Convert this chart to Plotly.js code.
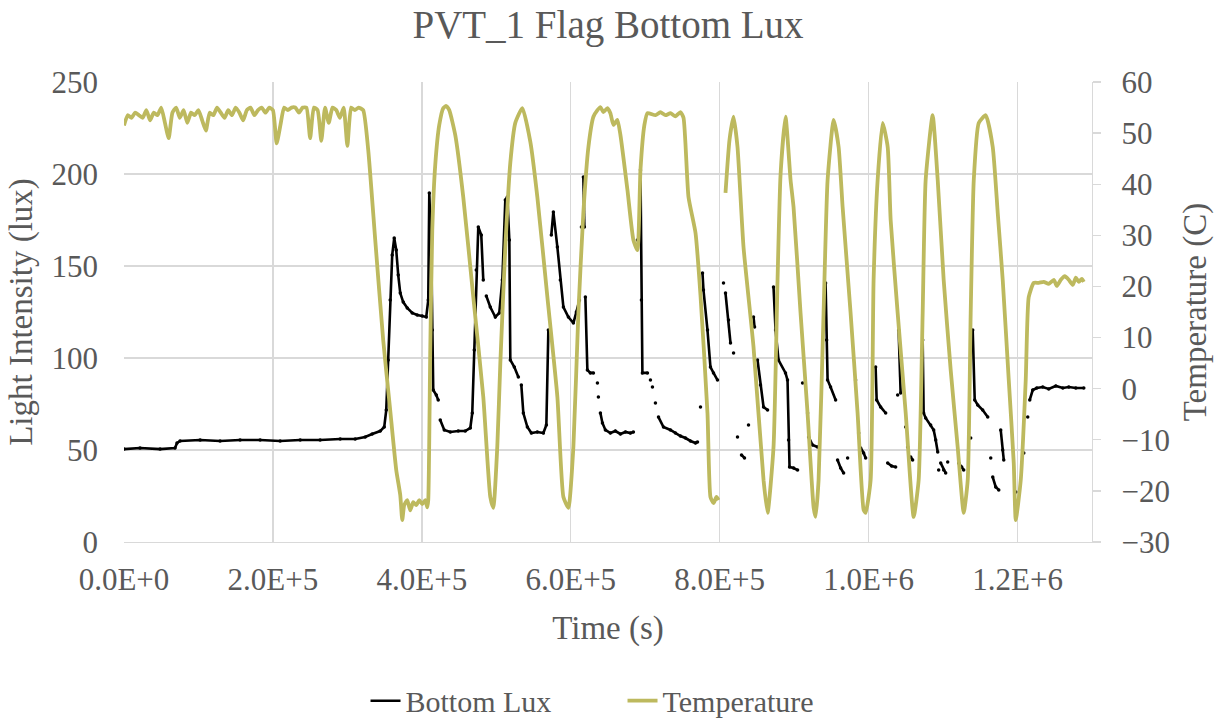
<!DOCTYPE html>
<html><head><meta charset="utf-8">
<script src="https://cdn.plot.ly/plotly-3.0.1.min.js"></script>
<style>html,body{margin:0;padding:0;background:#fff}#chart{width:1219px;height:723px}</style>
</head><body><div id="chart"></div>
<script>
// ---- tick labels ----
const xTickValues = [0, 200000, 400000, 600000, 800000, 1000000, 1200000];
const xTickLabels = ["0.0E+0", "2.0E+5", "4.0E+5", "6.0E+5", "8.0E+5", "1.0E+6", "1.2E+6"];
const luxTicks = [0, 50, 100, 150, 200, 250];
const tempTicks = [-30, -20, -10, 0, 10, 20, 30, 40, 50, 60];

// ---- Temperature (C) vs time (s) ----
const tempTime = [
  0,5000,10000,15000,20000,25000,30000,35000,40000,45000,
  50000,55000,60000,65000,70000,75000,80000,85000,90000,95000,
  100000,105000,110000,115000,120000,125000,130000,135000,140000,145000,
  150000,155000,160000,165000,170000,175000,180000,185000,190000,195000,
  200000,205000,210000,215000,220000,225000,230000,235000,240000,245000,
  250000,255000,260000,265000,270000,275000,280000,285000,290000,295000,
  300000,305000,310000,315000,321200,
  328000,337400,348100,357500,365600,371000,373700,376300,380400,384400,388400,392500,396500,400500,404600,407300,408600,
  411300,414000,418000,423400,428800,432800,436800,444900,455600,469100,482500,491900,496000,
  501300,505400,512100,518800,525500,535000,545700,555100,568600,582000,590100,596800,
  603500,610200,616900,623700,630400,635800,639800,643800,649200,653200,657300,662600,666700,676100,684100,689500,
  693600,698900,703000,713700,720400,727200,733900,740600,747300,751400,758100,767500,774200,783600,787600,791700,795700,798400,
  null,
  807800,813200,818600,823900,832000,845400,858900,864300,872300,877700,881700,888400,
  895200,899200,908600,918000,926100,928800,932800,939500,944900,953000,
  959700,965100,975800,985200,993300,996000,1002700,1006700,1012100,1018800,
  1025600,1029600,1039000,1049800,1060500,1067200,1072600,1076600,1086000,
  1092800,1100800,1110200,1119600,1127700,1133100,1137100,1141200,1147900,1157300,
  1166700,1173400,1180100,1188200,1194900,1197600,1204300,1211000,1215000,1221800,
  1228500,1235200,1241900,1248700,1252700,1258100,1263500,1268800,1274200,1278300,1282300,1286300,1289000
];
const tempValue = [
  51.5,53.5,53,54,53.5,53,54.5,52.5,54,53.5,
  55,52,49,54,55,53,54.5,52,54,53.5,
  54.5,52.5,50.5,54,53.5,55,54,53,54.5,53.5,
  55,54,52.5,54.5,55,53.5,54.5,55,54,55,
  54.5,48,51.5,55,54.5,55,55,54,55,55,
  49,55,54.5,48.5,55,52,55,54.5,53,55,
  47.5,55,54.5,55,54.5,
  46.7,29.1,9.5,-4.2,-15.9,-20.8,-25.7,-22.8,-21.8,-23.8,-22.2,-22.8,-21.8,-22.6,-21.8,-23.2,-21.8,
  7.6,31,43.8,51.6,54.9,55.3,54.5,49.6,37.5,17.9,-1.6,-21.2,-23.3,
  -11.4,5,27.7,44.2,52,54.9,48.3,37.5,17.9,-1.6,-21.2,-23.3,
  -11.4,14.8,34.4,47.3,53.2,54.5,55.1,54.1,54.9,53.9,51.6,52.6,49.6,38.9,29.1,27.1,
  42.8,51.6,53.9,53.5,54.1,53.5,53.9,53.3,54.1,53,37.5,30.5,18.3,-4.8,-21.2,-22.4,-21.2,-21.8,
  null,
  38.3,48.7,53.2,47.3,27.7,8.2,-17.9,-24.3,-11.4,21.3,41.8,53.2,
  40.8,35.5,14.8,-4.8,-23.2,-25.1,-17.9,14.8,40.8,52.6,
  47.3,35.5,14.8,-4.8,-23.7,-24.3,-17.9,21.3,40.8,52,
  47.3,33,14.8,-4.8,-25.1,-17.9,14.8,40.8,53.5,
  40.8,21.3,3.7,-11.4,-24.3,-17.9,14.8,40.8,52,53.5,
  47.3,34.4,21.3,1.7,-14.5,-25.7,-17.9,1.7,17.9,20.7,
  20.7,20.9,20.5,21.3,20.1,21.3,22,21.3,20.3,21.7,20.9,21.5,20.9
];

// ---- Bottom Lux (lux) vs time (s); null = gap in the record ----
const luxTime = [
  0,21500,48400,68500,71200,75300,102200,129000,155900,182800,209700,236600,263400,290300,310500,323900,333300,344100,349500,352200,354800,357500,360200,362900,365600,368300,371000,375000,380400,387100,393800,400500,405900,408600,410000,412600,414000,415300,419400,422000,null,
  424700,430100,438200,448900,458300,465100,467700,470400,473100,475800,479800,482500,null,
  486600,491900,498700,504000,508100,512100,514800,517500,518800,524200,529600,null,
  533600,536300,541700,547100,555100,563200,567200,569900,null,
  573900,576600,582000,586000,590100,596800,603500,607500,611600,null,
  614300,null,
  616900,618300,null,
  619600,622300,626300,630400,null,
  635800,null,
  637100,null,
  639800,642500,646500,653200,659900,666700,673400,680100,684100,null,
  689500,null,
  693600,694900,696200,703000,null,
  707000,null,
  709700,null,
  713700,null,
  717800,724500,733900,740600,747300,754000,760800,767500,770200,null,
  774200,null,
  776900,778200,783600,787600,791700,797100,null,
  805100,null,
  807800,811800,814500,null,
  818600,null,
  823900,null,
  829300,833300,null,
  838700,null,
  845400,846800,null,
  850800,854800,858900,864300,null,
  872300,875000,879000,888400,891100,892500,893800,899200,904600,null,
  911300,null,
  918000,null,
  919400,924700,931400,null,
  942200,943600,944900,948900,955700,null,
  958300,962400,966400,null,
  971800,null,
  982500,null,
  986600,null,
  989300,993300,996000,null,
  1009400,1010800,1016100,1022900,null,
  1025600,1030900,1036300,null,
  1039000,null,
  1040300,1043000,null,
  1049800,null,
  1052400,null,
  1056500,1059100,null,
  1072600,1073900,1076600,1083300,1087400,1090100,1092800,null,
  1094100,null,
  1096800,1100800,1103500,null,
  1106200,null,
  1121000,1125000,1127700,null,
  1137100,null,
  1139800,1142500,1146500,1153200,1160000,null,
  1164000,null,
  1166700,1170700,1174800,null,
  1177400,1180100,1181500,null,
  1197600,null,
  1208400,null,
  1213700,null,
  1216400,1220400,1225800,1233900,1241900,1251400,1260800,1268800,1278300,1289000
];
const luxValue = [
  50.5,51.1,50.5,51.1,53.8,54.9,55.4,54.9,55.4,55.4,54.9,55.4,55.4,56,56,57.1,58.7,60.3,62.5,71.7,98.9,131.5,156,165.2,158.7,145.1,135.3,130.4,127.2,124.5,123.4,122.8,122.3,131.5,189.7,158.7,115.2,82.6,79.9,77.2,null,
  66.3,60.9,59.8,60.3,60.3,62,70.1,104.4,147.8,171.2,166.9,142.4,null,
  133.7,127.7,122.3,124.5,142.4,185.9,187.5,164.1,98.9,95.1,89.7,null,
  85.3,70.1,62.5,59.2,59.8,59.2,63.6,115.2,null,
  166.9,179.4,160.3,142.4,127.7,122.3,119,125,131.5,null,
  171.2,null,
  198.4,171.2,null,
  133.2,93.5,91.9,91.9,null,
  86.4,null,
  78.8,null,
  70.1,64.7,60.9,59.2,60.3,58.7,59.8,59.2,59.8,null,
  164.1,null,
  202.2,131.5,91.9,91.9,null,
  88,null,
  84.2,null,
  75.5,null,
  67.9,62.5,60.9,59.2,57.6,56.5,54.9,53.8,54.4,null,
  73.4,null,
  146.2,137,115.2,95.1,91.9,88,null,
  140.8,null,
  135.3,120.7,108.2,null,
  102.7,null,
  57.1,null,
  47.3,45.7,null,
  63.6,null,
  122.3,116.8,null,
  98.9,85.3,73.4,71.7,null,
  138.6,115.2,98.9,91.9,88,55.4,40.8,40.2,39.1,null,
  86.4,null,
  70.1,null,
  57.1,52.7,51.6,null,
  140.8,109.8,88,84.2,77.2,null,
  44.6,40.2,37.5,null,
  45.7,null,
  88,null,
  59.2,null,
  51.1,48.4,45.7,null,
  95.1,77.2,73.4,70.1,null,
  42.9,41.3,40.8,null,
  79.9,null,
  115.2,81,null,
  62.5,null,
  51.6,null,
  46.2,44.6,null,
  109.8,70.1,67.4,63.6,60.9,55.4,48.9,null,
  39.1,null,
  42.9,39.1,37.5,null,
  43.5,null,
  42.9,40.8,39.1,null,
  56.5,null,
  115.2,77.2,74.5,71.7,67.9,null,
  45.7,null,
  35.3,29.9,28.3,null,
  60.9,50,44.6,null,
  27.2,null,
  48.4,null,
  67.9,null,
  77.2,82.6,83.7,84.2,83.2,84.8,83.7,84.2,83.7,83.7
];

const FONT = 'Liberation Serif';
const GREY_TEXT = '#595959';
const GRID = '#D9D9D9';
const LUX_COLOR = '#000000';
const TEMP_COLOR = '#BDB95E';

const traces = [
  // legend entry for the lux series (line only, no data)
  {
    x: [null], y: [null], name: 'Bottom Lux', type: 'scatter', mode: 'lines',
    line: {color: LUX_COLOR, width: 2.6}, yaxis: 'y', hoverinfo: 'skip'
  },
  {
    x: luxTime, y: luxValue, name: 'Bottom Lux', type: 'scatter', showlegend: false,
    mode: 'lines+markers', connectgaps: false, yaxis: 'y',
    line: {color: LUX_COLOR, width: 2.6},
    marker: {color: LUX_COLOR, size: 3.5}
  },
  {
    x: tempTime, y: tempValue, name: 'Temperature', type: 'scatter',
    mode: 'lines', connectgaps: false, yaxis: 'y2',
    line: {color: TEMP_COLOR, width: 3.8, shape: 'spline', smoothing: 0.5}
  }
];

const layout = {
  width: 1219, height: 723,
  margin: {l: 124, r: 127, t: 82, b: 181, autoexpand: false},
  paper_bgcolor: '#ffffff', plot_bgcolor: '#ffffff',
  font: {family: FONT, color: GREY_TEXT, size: 30},
  title: {
    text: 'PVT_1 Flag Bottom Lux',
    font: {family: FONT, size: 39, color: GREY_TEXT},
    x: 0.5, xanchor: 'center', xref: 'paper', y: 0.966, yanchor: 'middle'
  },
  xaxis: {
    range: [0, 1300000], tickmode: 'array', tickvals: xTickValues, ticktext: xTickLabels,
    showgrid: true, gridcolor: GRID, gridwidth: 1.3, zeroline: false,
    showline: true, linecolor: GRID, linewidth: 1.3, ticks: '',
    ticklabelstandoff: 9, tickfont: {family: FONT, size: 31, color: GREY_TEXT},
    title: {text: 'Time (s)', font: {family: FONT, size: 33, color: GREY_TEXT}, standoff: 20},
    automargin: false
  },
  yaxis: {
    range: [0, 250], tickmode: 'array', tickvals: luxTicks,
    showgrid: true, gridcolor: GRID, gridwidth: 1.3, zeroline: false,
    showline: false, ticks: '', ticklabelstandoff: 25,
    tickfont: {family: FONT, size: 31, color: GREY_TEXT},
    title: {text: 'Light Intensity (lux)', font: {family: FONT, size: 33, color: GREY_TEXT}, standoff: 8},
    automargin: false
  },
  yaxis2: {
    overlaying: 'y', side: 'right', range: [-30, 60], tickmode: 'array', tickvals: tempTicks,
    showgrid: false, zeroline: false, showline: true, linecolor: GRID, linewidth: 1.3,
    ticks: 'outside', ticklen: 8, tickcolor: GRID, tickwidth: 1.3, ticklabelstandoff: 14,
    tickfont: {family: FONT, size: 31, color: GREY_TEXT},
    title: {text: 'Temperature (C)', font: {family: FONT, size: 33, color: GREY_TEXT}, standoff: 14},
    automargin: false
  },
  showlegend: true,
  legend: {
    orientation: 'h', x: 0.515, xanchor: 'center', y: -0.345, yanchor: 'middle',
    entrywidth: 212, entrywidthmode: 'pixels',
    font: {family: FONT, size: 30, color: GREY_TEXT}, bgcolor: 'rgba(0,0,0,0)'
  }
};

Plotly.newPlot('chart', traces, layout, {staticPlot: true, displayModeBar: false});
</script>
</body></html>
